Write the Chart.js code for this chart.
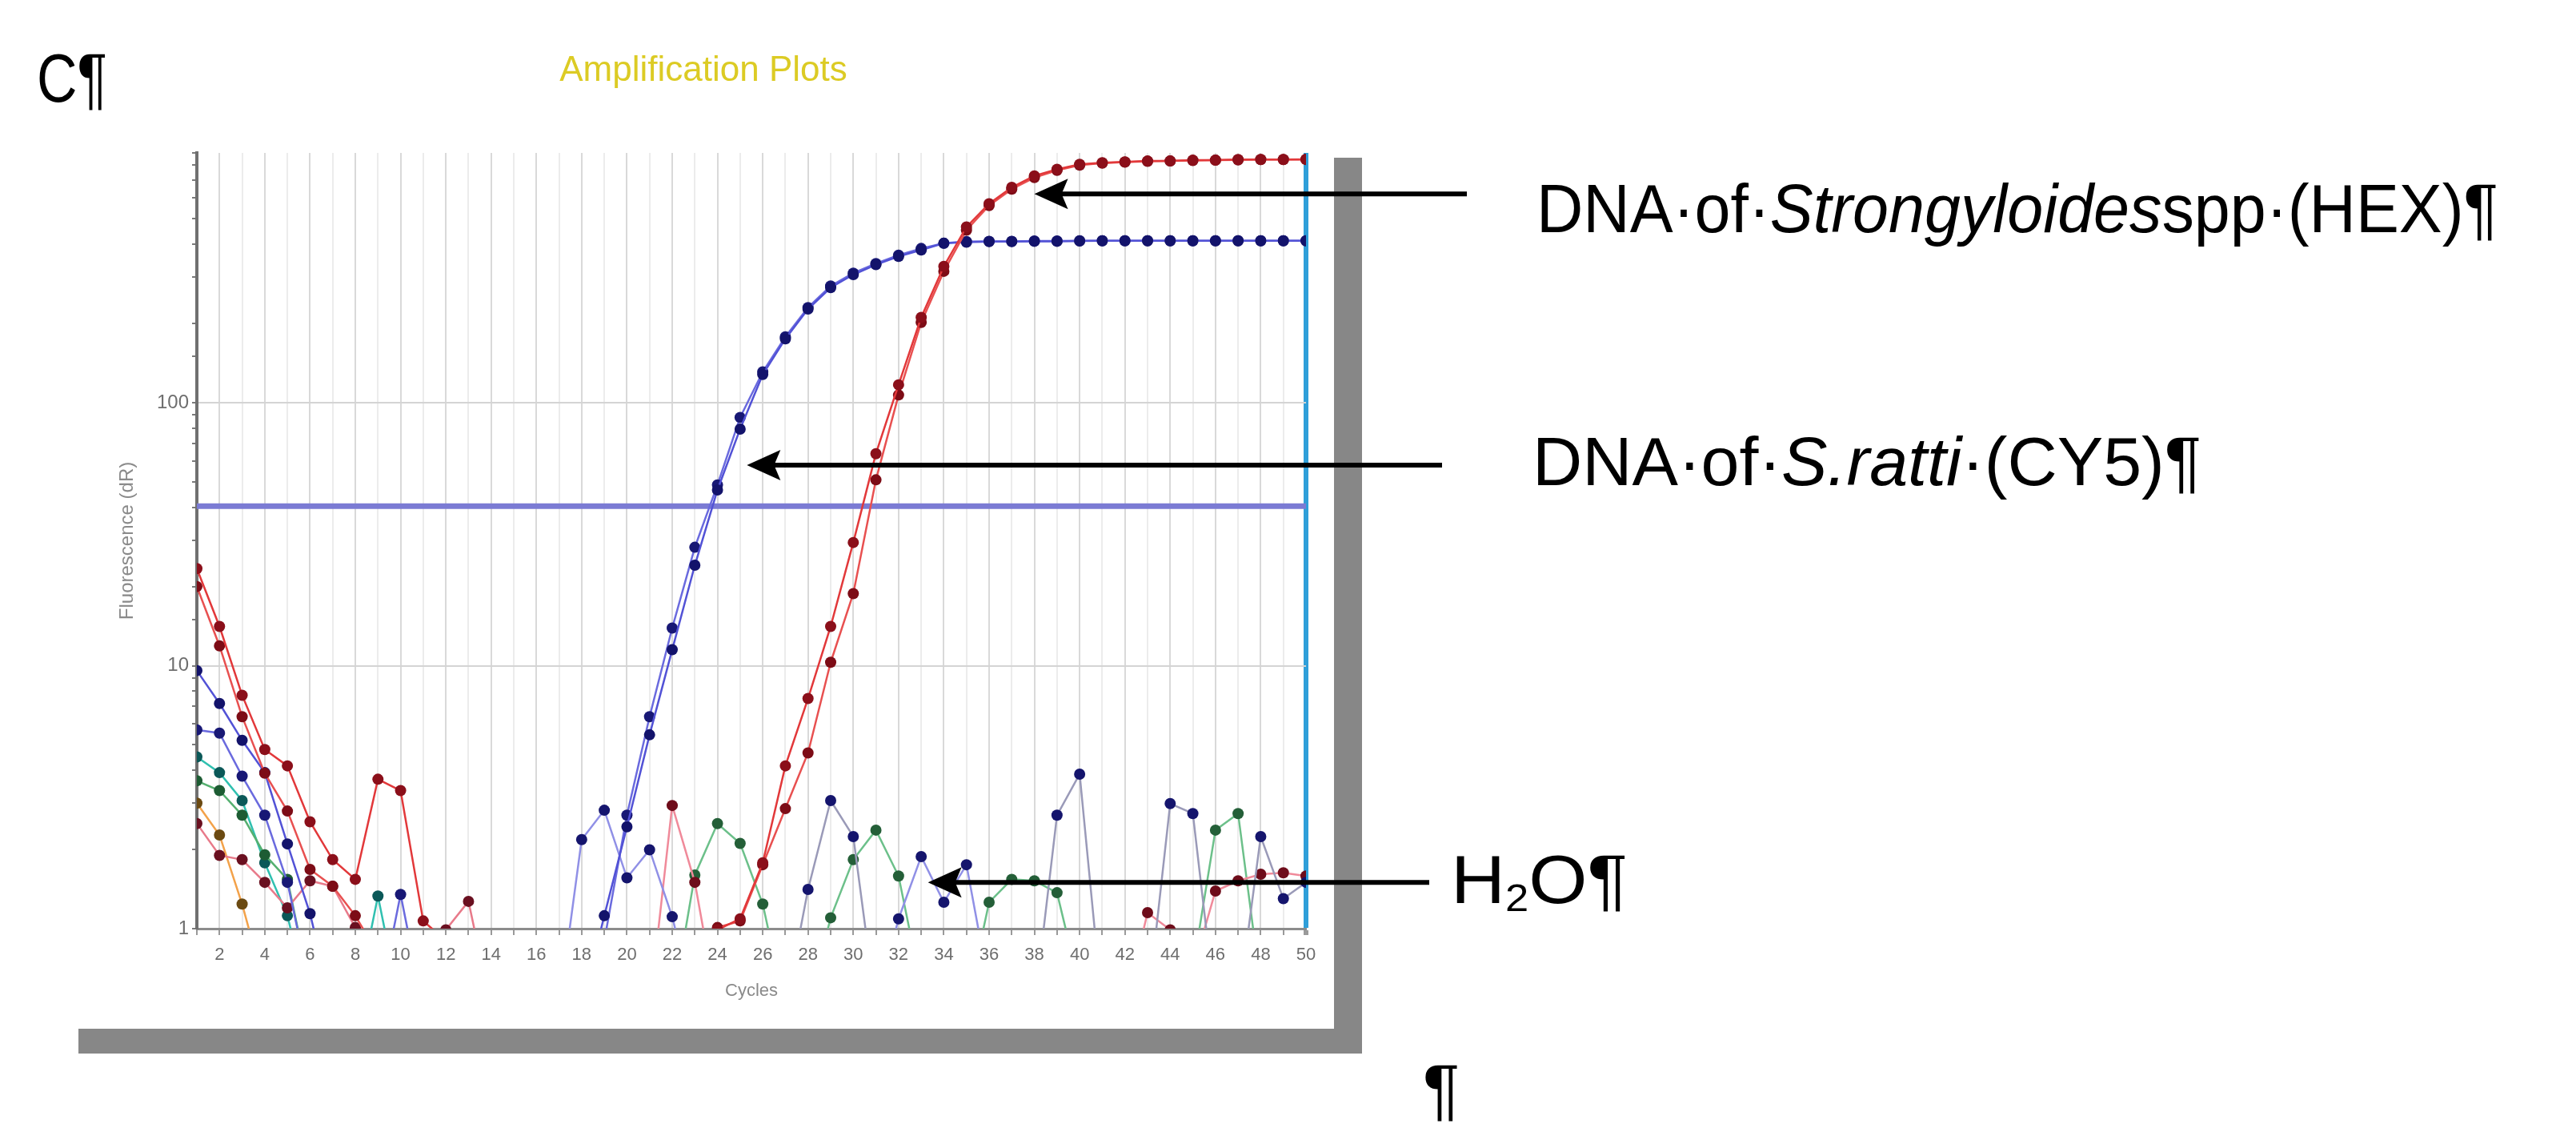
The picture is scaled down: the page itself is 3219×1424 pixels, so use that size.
<!DOCTYPE html>
<html>
<head>
<meta charset="utf-8">
<title>Amplification Plots</title>
<script src="https://cdn.jsdelivr.net/npm/chart.js@4.4.1/dist/chart.umd.min.js"></script>
<style>
  html, body { margin: 0; padding: 0; background: #fff; }
  #wrap { position: relative; width: 3219px; height: 1424px; }
</style>
</head>
<body>
<div id="wrap"><canvas id="chart" width="3219" height="1424"></canvas></div>
<script>
// cycles (x axis) =====================================================
const cycles = [1,2,3,4,5,6,7,8,9,10,11,12,13,14,15,16,17,18,19,20,21,22,23,24,25,
  26,27,28,29,30,31,32,33,34,35,36,37,38,39,40,41,42,43,44,45,46,47,48,49,50];

// y axis labels shown (log scale, dR)
const yLabels = [1, 10, 100];
const thresholdLevel = 40.4;

// HEX replicates (Strongyloides spp) - red
const hexA = [23.4,14.1,7.72,4.80,4.16,2.55,1.83,1.54,3.70,3.35,1.07,0.9,0.5,0.5,0.5,0.5,0.5,0.5,0.5,0.5,
  0.5,0.5,0.6,0.99,1.09,1.78,4.16,7.50,14.1,29.4,64.0,117,211,330,466,571,659,729,772,806,
  818,824,830,830,836,836,841,841,841,841];
const hexB = [20.0,11.9,6.40,3.9,2.8,1.68,1.45,1.12,0.8,0.5,0.5,0.5,0.5,0.5,0.5,0.5,0.5,0.5,0.5,0.5,
  0.5,0.5,0.5,1.01,1.07,1.75,2.86,4.66,10.3,18.8,50.9,107,202,316,453,562,649,718,765,800,
  815,822,828,830,834,836,838,841,841,843];

// CY5 replicates (S. ratti) - blue
const cy5A = [9.58,7.18,5.2,3.92,2.1,1.14,0.5,0.5,0.5,0.5,0.5,0.5,0.5,0.5,0.5,0.5,0.5,0.5,1.12,2.44,
  5.46,11.5,24.1,46.6,79.4,128,175,227,274,307,335,360,381,404,408,410,410,411,411,412,
  413,413,413,413,413,413,413,413,413,413];
const cy5B = [5.70,5.54,3.8,2.70,1.5,0.6,0.5,0.5,0.5,1.35,0.5,0.5,0.5,0.5,0.5,0.5,0.5,0.5,0.9,2.7,
  6.40,13.9,28.2,48.7,87.9,131,178,230,278,311,338,364,386,404,410,411,411,412,412,413,
  413,413,413,413,413,413,413,413,413,413];

// baseline noise / H2O wells
const redC = [2.51,1.9,1.83,1.50,1.2,1.52,1.45,1.01,0.7,0.6,0.8,0.99,1.27,0.5,null,null,null,null,null,null,
  null,null,null,null,null,null,null,null,null,null,null,null,null,null,null,null,null,null,null,null,
  null,null,null,null,null,null,null,null,null,null];
const orangeE = [3.0,2.27,1.24,0.6,null,null,null,null,null,null,null,null,null,null,null,null,null,null,null,null,
  null,null,null,null,null,null,null,null,null,null,null,null,null,null,null,null,null,null,null,null,
  null,null,null,null,null,null,null,null,null,null];
const greenE = [3.65,3.35,2.70,1.91,1.54,0.6,null,null,null,null,null,null,null,null,null,null,null,null,null,null,
  null,null,null,null,null,null,null,null,null,null,null,null,null,null,null,null,null,null,null,null,
  null,null,null,null,null,null,null,null,null,null];
const tealE = [4.5,3.92,3.07,1.78,1.12,0.5,0.5,0.5,1.33,0.5,null,null,null,null,null,null,null,null,null,null,
  null,null,null,null,null,null,null,null,null,null,null,null,null,null,null,null,null,null,null,null,
  null,null,null,null,null,null,null,null,null,null];
const blueN1 = [null,null,null,null,null,null,null,null,null,null,null,null,null,null,null,null,0.5,2.18,2.82,1.56,
  1.995,1.11,0.5,null,null,null,null,null,null,null,null,null,null,null,null,null,null,null,null,null,
  null,null,null,null,null,null,null,null,null,null];
const blueN2 = [null,null,null,null,null,null,null,null,null,null,null,null,null,null,null,null,null,null,null,null,
  null,null,null,null,null,null,0.5,1.41,3.07,2.24,0.5,null,null,null,null,null,null,null,null,null,
  null,null,null,null,null,null,null,null,null,null];
const blueN3 = [null,null,null,null,null,null,null,null,null,null,null,null,null,null,null,null,null,null,null,null,
  null,null,null,null,null,null,null,null,null,null,0.5,1.09,1.88,1.26,1.75,0.6,null,null,null,null,
  null,null,null,null,null,null,null,null,null,null];
const blueN4 = [null,null,null,null,null,null,null,null,null,null,null,null,null,null,null,null,null,null,null,null,
  null,null,null,null,null,null,null,null,null,null,null,null,null,null,null,null,null,0.5,2.70,3.87,
  0.5,0.5,0.5,2.99,2.74,0.5,0.5,2.24,1.3,1.50];
const redN = [null,null,null,null,null,null,null,null,null,null,null,null,null,null,null,null,null,null,null,null,
  0.5,2.94,1.50,0.5,null,null,null,null,null,null,null,null,null,null,null,null,null,null,null,null,
  null,0.5,1.15,0.99,0.7,1.39,1.52,1.61,1.63,1.585];
const greenN = [null,null,null,null,null,null,null,null,null,null,null,null,null,null,null,null,null,null,null,null,
  null,0.5,1.6,2.51,2.11,1.24,0.5,0.5,1.1,1.83,2.37,1.585,0.6,0.5,0.5,1.26,1.54,1.52,1.37,0.6,
  0.5,0.5,0.5,0.5,0.7,2.37,2.74,0.6,null,null];

// annotation arrows: tip at (cycle, value), tail in page pixels
const arrows = [
  { cycle: 38.0, value: 622, tailX: 1833 },
  { cycle: 25.3, value: 57.9, tailX: 1802 },
  { cycle: 33.3, value: 1.5, tailX: 1786 }
];

// text on the right side (Word-style formatting marks kept), w = wanted width
const notes = [
  { x: 1920, y: 290, w: 1202, runs: [['DNA·of·', 0], ['Strongyloides', 1], ['spp·(HEX)¶', 0]] },
  { x: 1915, y: 606, w: 836, runs: [['DNA·of·', 0], ['S.ratti', 1], ['·(CY5)¶', 0]] },
  { x: 1813, y: 1128, w: 221, runs: [['H', 0], ['2', 2], ['O¶', 0]] },
  { x: 1778, y: 1390, w: 0, runs: [['¶', 0]] },
  { x: 46, y: 127, w: 88, runs: [['C¶', 0]] }
];

function toPoints(values) {
  return values.map(function(v, i) { return { x: cycles[i], y: v }; });
}

function series(label, values, lineColor, dotColor) {
  return {
    label: label,
    data: toPoints(values),
    borderColor: lineColor,
    backgroundColor: dotColor,
    pointBackgroundColor: dotColor,
    pointBorderColor: dotColor,
    pointBorderWidth: 0,
    pointRadius: 7,
    borderWidth: 2.5,
    tension: 0,
    spanGaps: false
  };
}

const FONT = '"Liberation Sans", Arial, sans-serif';

function runFont(kind) {
  if (kind === 1) return 'italic 86px ' + FONT;
  if (kind === 2) return '48px ' + FONT;
  return '86px ' + FONT;
}

const decor = {
  id: 'decor',
  beforeDraw(chart) {
    const ctx = chart.ctx;
    ctx.save();
    ctx.fillStyle = '#878787';
    ctx.fillRect(1667, 197, 35, 1119);
    ctx.fillRect(98, 1285, 1604, 31);
    ctx.restore();
  },
  afterDraw(chart) {
    const ctx = chart.ctx;
    const area = chart.chartArea;
    const xs = chart.scales.x, ys = chart.scales.y;
    ctx.save();

    // title
    ctx.fillStyle = '#dccb24';
    ctx.font = '44px ' + FONT;
    ctx.textAlign = 'center';
    ctx.textBaseline = 'alphabetic';
    ctx.fillText('Amplification Plots', 879, 101);

    // axis titles
    ctx.fillStyle = '#8a8a8a';
    ctx.font = '22px ' + FONT;
    ctx.fillText('Cycles', (area.left + area.right) / 2, area.bottom + 84);
    ctx.save();
    ctx.translate(166, (area.top + area.bottom) / 2);
    ctx.rotate(-Math.PI / 2);
    ctx.font = '24px ' + FONT;
    ctx.fillText('Fluorescence (dR)', 0, 0);
    ctx.restore();

    // arrows
    ctx.fillStyle = '#000';
    ctx.strokeStyle = '#000';
    ctx.lineWidth = 6;
    arrows.forEach(function(a) {
      const tx = xs.getPixelForValue(a.cycle);
      const ty = ys.getPixelForValue(a.value);
      ctx.beginPath();
      ctx.moveTo(a.tailX, ty);
      ctx.lineTo(tx + 30, ty);
      ctx.stroke();
      ctx.beginPath();
      ctx.moveTo(tx, ty);
      ctx.lineTo(tx + 42, ty - 19);
      ctx.lineTo(tx + 34, ty);
      ctx.lineTo(tx + 42, ty + 19);
      ctx.closePath();
      ctx.fill();
    });

    // notes
    ctx.textAlign = 'left';
    ctx.fillStyle = '#000';
    notes.forEach(function(n) {
      let natural = 0;
      n.runs.forEach(function(r) {
        ctx.font = runFont(r[1]);
        natural += ctx.measureText(r[0]).width;
      });
      const sx = n.w ? n.w / natural : 1;
      ctx.save();
      ctx.translate(n.x, n.y);
      ctx.scale(sx, 1);
      let x = 0;
      n.runs.forEach(function(r) {
        ctx.font = runFont(r[1]);
        ctx.fillText(r[0], x, r[1] === 2 ? 10 : 0);
        x += ctx.measureText(r[0]).width;
      });
      ctx.restore();
    });
    ctx.restore();
  }
};

const config = {
  type: 'line',
  data: {
    datasets: [
      series('HEX A', hexA, '#e2383a', '#8b0f1a'),
      series('HEX B', hexB, '#e85050', '#7d0c16'),
      series('CY5 A', cy5A, '#5252d6', '#13136b'),
      series('CY5 B', cy5B, '#6a6ade', '#181875'),
      series('red C', redC, '#e87a8a', '#6a1020'),
      series('orange', orangeE, '#f3a24a', '#6b4a12'),
      series('green', greenE, '#55b070', '#1d5c33'),
      series('teal', tealE, '#30c0b0', '#0b5858'),
      series('blue N1', blueN1, '#9090e6', '#15156d'),
      series('blue N2', blueN2, '#9a9ab8', '#15156d'),
      series('blue N3', blueN3, '#9090e6', '#15156d'),
      series('blue N4', blueN4, '#9a9ab8', '#15156d'),
      series('red N', redN, '#f08a9a', '#6e0c1a'),
      series('green N', greenN, '#6cc08a', '#245f38'),
      {
        label: 'threshold',
        data: [{ x: cycles[0], y: thresholdLevel }, { x: cycles[cycles.length - 1], y: thresholdLevel }],
        borderColor: '#7b7bd4',
        borderWidth: 7,
        pointRadius: 0
      }
    ]
  },
  options: {
    responsive: false,
    animation: false,
    devicePixelRatio: 1,
    layout: { padding: { left: 166, right: 1587, top: 191, bottom: 184 } },
    plugins: { legend: { display: false }, tooltip: { enabled: false } },
    scales: {
      x: {
        type: 'linear',
        min: cycles[0],
        max: cycles[cycles.length - 1],
        afterFit: function(s) { s.height = 80; },
        ticks: {
          stepSize: 1,
          autoSkip: false,
          maxRotation: 0,
          padding: 12,
          color: '#6e6e6e',
          font: { size: 22, family: FONT },
          callback: function(v) { return v % 2 === 0 ? String(v) : ''; }
        },
        grid: {
          color: function(c) {
            if (!c.tick) return '#e4e4e4';
            if (c.tick.value === 50) return '#2f9fd9';
            return c.tick.value % 2 === 0 ? '#d9d9d9' : '#ececec';
          },
          lineWidth: function(c) { return c.tick && c.tick.value === 50 ? 6 : 2; },
          tickColor: '#9a9a9a',
          tickLength: 8
        },
        border: { color: '#8c8c8c', width: 3 }
      },
      y: {
        type: 'logarithmic',
        min: 1,
        max: 891,
        afterFit: function(s) { s.width = 80; },
        ticks: {
          autoSkip: false,
          padding: 4,
          color: '#6e6e6e',
          font: { size: 24, family: FONT },
          callback: function(v) { return yLabels.includes(v) ? String(v) : ''; }
        },
        grid: {
          color: function(c) {
            return c.tick && (c.tick.value === 10 || c.tick.value === 100) ? '#d4d4d4' : 'rgba(0,0,0,0)';
          },
          lineWidth: 2,
          tickColor: '#7a7a7a',
          tickLength: 6
        },
        border: { color: '#707070', width: 4 }
      }
    }
  },
  plugins: [decor]
};

const chart = new Chart(document.getElementById('chart'), config);
</script>
</body>
</html>
